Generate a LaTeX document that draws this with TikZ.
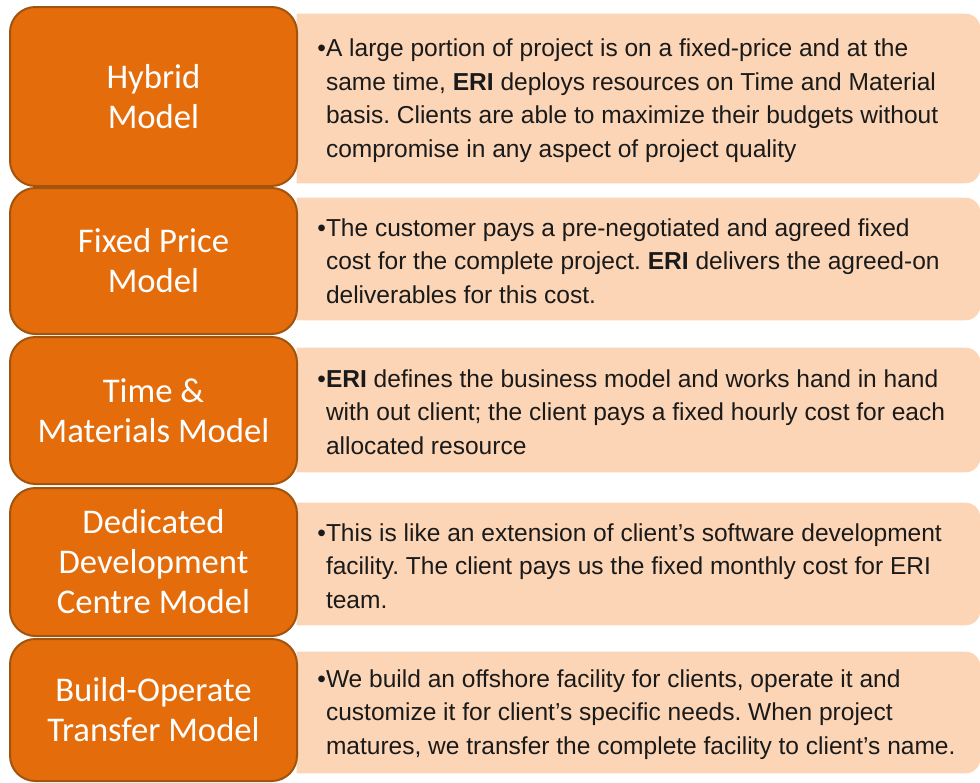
\documentclass[tikz,border=0pt]{standalone}
\usepackage{fontspec}
\setmainfont{Liberation Sans}
\newfontfamily\labelfont{Carlito}
\usepackage{xcolor}
\usetikzlibrary{positioning}

\definecolor{modelorange}{HTML}{E46C0A}
\definecolor{modelborder}{HTML}{A0540E}
\definecolor{notepeach}{HTML}{FBD5B5}
\definecolor{noteink}{HTML}{1A1A1A}
\frenchspacing

\begin{document}
\begin{tikzpicture}[x=0.75pt, y=-0.75pt,
	model/.style={draw=modelborder, line width=1.5pt, fill=modelorange, rounded corners=19pt,
		minimum width=215.25pt, text=white, align=center,
		font=\labelfont\fontsize{26pt}{30pt}\selectfont},
	note/.style={inner sep=0pt, minimum width=512.25pt},
	notetext/.style={anchor=west, inner sep=0pt, align=left, text=noteink, yshift=-1.5pt,
		font=\fontsize{18.4pt}{25.2pt}\selectfont}]
	\useasboundingbox (0, 0) rectangle (980, 782);

	% peach description panels, square on the left, round on the right
	\node[note, minimum height=126.75pt] (n1) at (638.5,  98.5) {};
	\node[note, minimum height=91.5pt]   (n2) at (638.5, 259.0) {};
	\node[note, minimum height=93pt]     (n3) at (638.5, 410.0) {};
	\node[note, minimum height=91.5pt]   (n4) at (638.5, 564.0) {};
	\node[note, minimum height=90.75pt]  (n5) at (638.5, 712.5) {};
	\foreach \n in {n1, n2, n3, n4, n5}
		\fill[notepeach] (\n.north west) -- ([xshift=-11pt]\n.north east)
			arc[start angle=90, end angle=0, radius=11pt] -- ([yshift=11pt]\n.south east)
			arc[start angle=0, end angle=-90, radius=11pt] -- (\n.south west) -- cycle;

	% orange model boxes
	\node[model, minimum height=134.25pt] (hybrid)    at (153.5,  96.5) {Hybrid\\Model};
	\node[model, minimum height=109.5pt]  (fixed)     at (153.5, 261.0) {Fixed Price\\Model};
	\node[model, minimum height=110.25pt] (tm)        at (153.5, 410.5) {Time \&\\Materials Model};
	\node[model, minimum height=111pt]    (dedicated) at (153.5, 562.0) {Dedicated\\Development\\Centre Model};
	\node[model, minimum height=106.5pt]  (bot)       at (153.5, 710.0) {Build-Operate\\Transfer Model};

	% descriptions
	\node[notetext] (t1) at ([xshift=21.75pt]n1.west) {\llap{•}A large portion of project is on a fixed-price and at the\\
		same time, \textbf{ERI} deploys resources on Time and Material\\
		basis. Clients are able to maximize their budgets without\\
		compromise in any aspect of project quality};
	\node[notetext] (t2) at ([xshift=21.75pt]n2.west) {\llap{•}The customer pays a pre-negotiated and agreed fixed\\
		cost for the complete project. \textbf{ERI} delivers the agreed-on\\
		deliverables for this cost.};
	\node[notetext] (t3) at ([xshift=21.75pt]n3.west) {\llap{•}\textbf{ERI} defines the business model and works hand in hand\\
		with out client; the client pays a fixed hourly cost for each\\
		allocated resource};
	\node[notetext] (t4) at ([xshift=21.75pt]n4.west) {\llap{•}This is like an extension of client’s software development\\
		facility. The client pays us the fixed monthly cost for ERI\\
		team.};
	\node[notetext] (t5) at ([xshift=21.75pt]n5.west) {\llap{•}We build an offshore facility for clients, operate it and\\
		customize it for client’s specific needs. When project\\
		matures, we transfer the complete facility to client’s name.};
\end{tikzpicture}
\end{document}
